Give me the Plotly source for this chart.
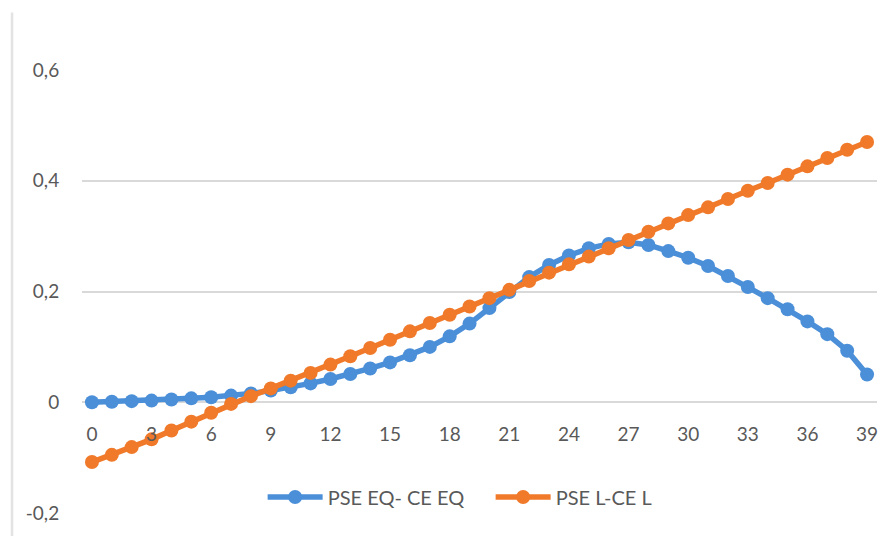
import plotly.graph_objects as go

# Category index along the horizontal axis
steps = list(range(40))

# PSE EQ - CE EQ
pse_eq = [0.000, 0.001, 0.002, 0.003, 0.005, 0.007, 0.009, 0.012, 0.016, 0.021,
          0.027, 0.034, 0.042, 0.051, 0.061, 0.072, 0.085, 0.100, 0.119, 0.142,
          0.170, 0.199, 0.226, 0.248, 0.265, 0.278, 0.286, 0.289, 0.284, 0.273,
          0.261, 0.246, 0.228, 0.208, 0.188, 0.168, 0.146, 0.123, 0.093, 0.050]

# PSE L - CE L
pse_l = [-0.108, -0.095, -0.081, -0.067, -0.051, -0.035, -0.019, -0.003, 0.011, 0.025,
         0.039, 0.053, 0.068, 0.083, 0.098, 0.113, 0.128, 0.143, 0.158, 0.173,
         0.188, 0.203, 0.219, 0.234, 0.249, 0.263, 0.278, 0.293, 0.308, 0.323,
         0.338, 0.352, 0.367, 0.382, 0.396, 0.411, 0.426, 0.441, 0.456, 0.470]

series_names = ["PSE EQ- CE EQ", "PSE L-CE L"]
x_ticks = list(range(0, 40, 3))
y_ticks = [-0.2, 0, 0.2, 0.4, 0.6]
y_tick_text = ["-0,2", "0", "0,2", "0,4", "0,6"]

BLUE = "#4A8FD8"
ORANGE = "#F07A2A"
TEXT = "#595959"
GRID = "#D9D9D9"

fig = go.Figure()
for name, vals, col in [(series_names[0], pse_eq, BLUE), (series_names[1], pse_l, ORANGE)]:
    fig.add_trace(go.Scatter(
        x=steps, y=vals, name=name, mode="lines+markers",
        line=dict(color=col, width=5.5),
        marker=dict(color=col, size=14),
        xaxis="x2",
    ))

fig.update_layout(
    width=888, height=536,
    margin=dict(l=82, r=11, t=70, b=23),
    paper_bgcolor="white", plot_bgcolor="white",
    font=dict(family="Lato, Open Sans, sans-serif", size=19, color=TEXT),
    showlegend=True,
    legend=dict(orientation="h", x=0.514, xanchor="center", y=0.036, yanchor="middle",
                font=dict(size=20, color=TEXT), itemwidth=55,
                entrywidth=158, entrywidthmode="pixels",
                bgcolor="rgba(0,0,0,0)", traceorder="normal"),
    xaxis=dict(range=[-0.5, 39.5], showgrid=False, showticklabels=False,
               zeroline=False, showline=False),
    # category axis drawn crossing the value axis at zero
    xaxis2=dict(range=[-0.5, 39.5], overlaying="x", anchor="free", position=0.2483,
                tickvals=x_ticks, ticktext=[str(v) for v in x_ticks],
                ticks="outside", ticklen=14, tickcolor="rgba(0,0,0,0)",
                showgrid=False, zeroline=False, showline=False,
                tickfont=dict(size=19, color=TEXT)),
    yaxis=dict(range=[-0.2, 0.6], tickvals=y_ticks, ticktext=y_tick_text,
               showgrid=True, gridcolor=GRID, gridwidth=1.5,
               zeroline=True, zerolinecolor=GRID, zerolinewidth=1.5,
               showline=False, ticks="outside", ticklen=18, tickcolor="rgba(0,0,0,0)",
               tickfont=dict(size=19, color=TEXT)),
)

# faint chart-area border on the left
fig.add_shape(type="line", xref="paper", yref="paper",
              x0=-0.088, x1=-0.088, y0=-0.06, y1=1.13,
              line=dict(color="#E3E3E3", width=2.5))

fig.write_html("out.html")
